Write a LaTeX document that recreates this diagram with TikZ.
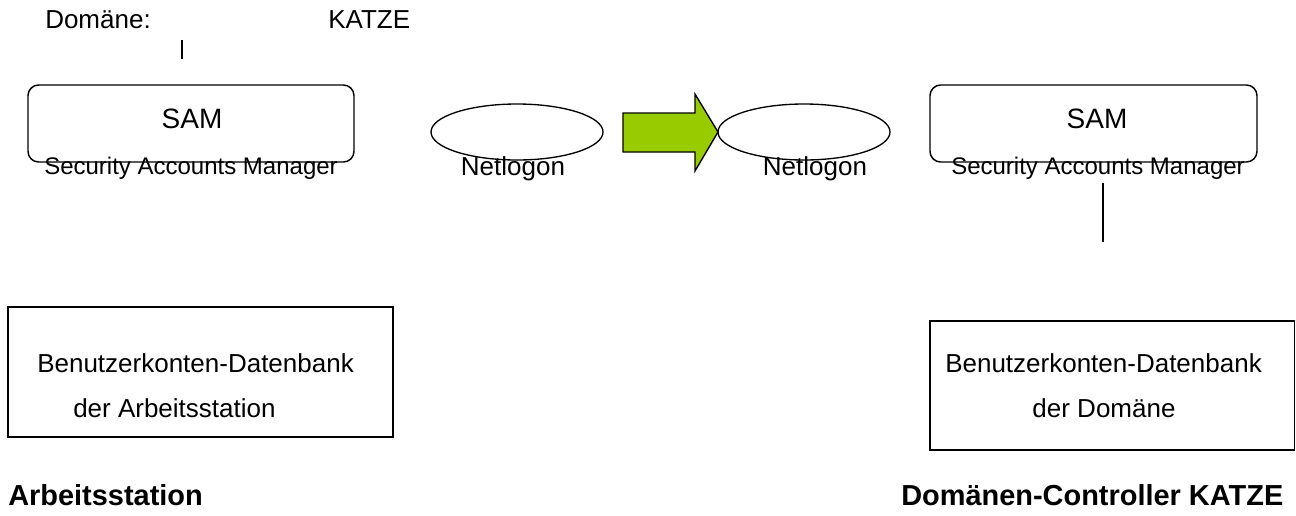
\documentclass[tikz,border=0pt]{standalone}
\usepackage{fontspec}
\setmainfont{Liberation Sans}
\definecolor{arrowgreen}{RGB}{153,204,0}
\begin{document}
\begin{tikzpicture}[x=0.75pt,y=-0.75pt,
  txt/.style={inner sep=0pt,anchor=base west,font=\fontsize{19.5}{23}\selectfont},
  smalltxt/.style={inner sep=0pt,anchor=base,font=\fontsize{18}{22}\selectfont},
  samtxt/.style={inner sep=0pt,anchor=base,font=\fontsize{21}{25}\selectfont},
  boldtxt/.style={inner sep=0pt,anchor=base west,font=\bfseries\fontsize{21.7}{26}\selectfont},
  sambox/.style={draw,line width=1.1pt,rounded corners=8pt},
  dbbox/.style={draw,line width=1.1pt},
  oval/.style={draw,line width=1pt},
  stub/.style={line width=1pt},
  flowarrow/.style={draw,line width=1pt,fill=arrowgreen,line join=miter}]
\useasboundingbox (0,0) rectangle (1296,515);

% heading
\node[txt] (dom) at (45,28) {Domäne:};
\node[txt] (katze) at (328,28) {KATZE};
\coordinate (ltop) at (182,40);
\coordinate (lbot) at (182,59);
\draw[stub] (ltop) -- (lbot);

% workstation SAM
\draw[sambox] (28,85) rectangle (354,162);
\node[samtxt] (samL) at (192,128) {SAM};
\node[smalltxt] (secL) at (191,174) {Security Accounts Manager};

% Netlogon services
\draw[oval] (517,132) ellipse [x radius=86, y radius=28];
\node[txt,anchor=base] (netL) at (513,175) {Netlogon};
\draw[oval] (804,132) ellipse [x radius=86, y radius=28];
\node[txt,anchor=base] (netR) at (815,175) {Netlogon};

% transfer arrow
\draw[flowarrow] (623,113) -- (695,113) -- (695,94) -- (718,132) -- (695,171)
  -- (695,152) -- (623,152) -- cycle;

% domain controller SAM
\draw[sambox] (930,85) rectangle (1257,162);
\node[samtxt] (samR) at (1097,128) {SAM};
\node[smalltxt] (secR) at (1098,174) {Security Accounts Manager};
\coordinate (rtop) at (1103,183);
\coordinate (rbot) at (1103,242);
\draw[stub] (rtop) -- (rbot);

% account databases
\draw[dbbox] (8,307) rectangle (393,437);
\node[txt] (dbL1) at (37,372) {Benutzerkonten-Datenbank};
\node[txt] (dbL2) at (73,417) {der Arbeitsstation};

\draw[dbbox] (930,321) rectangle (1294.5,450);
\node[txt] (dbR1) at (945,372) {Benutzerkonten-Datenbank};
\node[txt,anchor=base] (dbR2) at (1104,417) {der Domäne};

% machine captions
\node[boldtxt] (ws) at (8,505) {Arbeitsstation};
\node[boldtxt] (dc) at (901,505) {Domänen-Controller KATZE};
\end{tikzpicture}
\end{document}
